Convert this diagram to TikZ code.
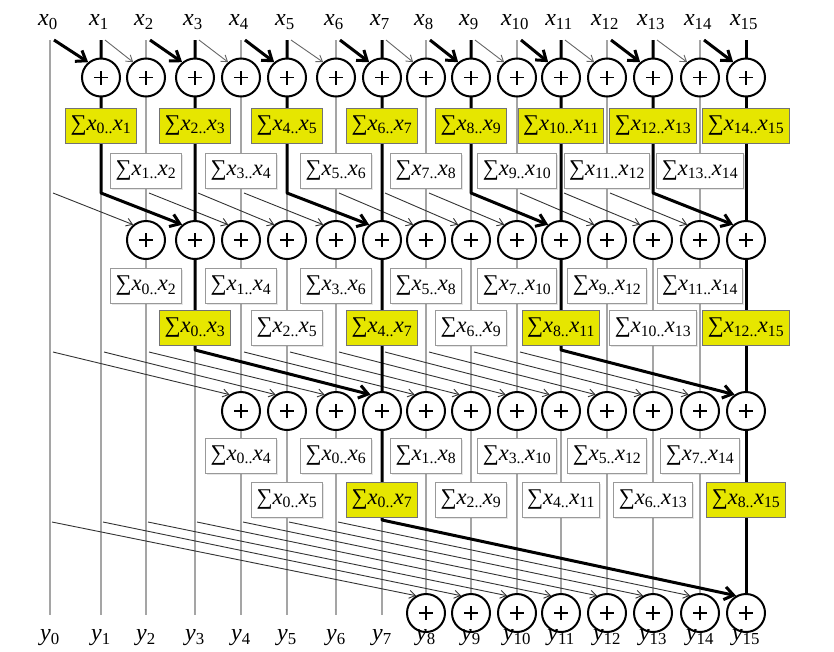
\documentclass[tikz,border=0pt]{standalone}
\usepackage{fontspec}
\setmainfont{Liberation Serif}
\usetikzlibrary{arrows.meta,shadows}
\definecolor{ylw}{RGB}{230,230,0}
\definecolor{vline}{RGB}{165,165,165}
\newcommand\sumx[2]{∑\textit{x}\textsubscript{#1..}\textit{x}\textsubscript{#2}}
\newcommand\colX[1]{\csname cx#1\endcsname}
\pgfdeclarelayer{bg}
\pgfsetlayers{bg,main}
\begin{document}
\begin{tikzpicture}[x=1pt,y=-1pt,
  adder/.style={circle,draw=black,line width=2pt,fill=white,minimum size=38pt,inner sep=0pt,
    path picture={\draw[line width=1.7pt] ([xshift=-7pt]path picture bounding box.center) -- ++(14pt,0pt)
      ([yshift=-7pt]path picture bounding box.center) -- ++(0pt,14pt);}},
  sbox/.style={line width=1pt,minimum height=35pt,inner xsep=5pt,inner ysep=2pt,font=\fontsize{22.5}{24}\selectfont},
  ybox/.style={sbox,draw=black!55,fill=ylw},
  wbox/.style={sbox,draw=black!40,fill=white,drop shadow={opacity=0.2,shadow xshift=1.5pt,shadow yshift=-1.5pt}},
  grayline/.style={draw=vline,line width=1.1pt},
  thinarr/.style={draw=black!80,line width=0.9pt,-{Straight Barb[length=6pt,width=8pt]}},
  thinarrA/.style={thinarr,draw=black!60},
  thickarr/.style={draw=black,line width=3pt,line join=round,-{Straight Barb[length=9pt,width=13pt]}},
  lbl/.style={font=\fontsize{24}{26}\selectfont,inner sep=0pt}
]
\useasboundingbox (0,0) rectangle (834,651);
\foreach \i/\x in {0/50,1/101,2/146,3/195,4/241,5/287,6/336,7/382,8/426,9/471,10/517,11/561,12/607,13/653,14/700,15/746}{
  \expandafter\xdef\csname cx\i\endcsname{\x}
}
% adders
\foreach \i in {1,...,15}{ \node[adder] (r1c\i) at (\colX{\i},77.5) {}; }
\foreach \i in {2,...,15}{ \node[adder] (r2c\i) at (\colX{\i},240) {}; }
\foreach \i in {4,...,15}{ \node[adder] (r3c\i) at (\colX{\i},411) {}; }
\foreach \i in {8,...,15}{ \node[adder] (r4c\i) at (\colX{\i},613) {}; }
% boxes stage 1
\foreach \c/\a in {1/0,3/2,5/4,7/6,9/8,11/10,13/12,15/14}{ \node[ybox] (a\c) at (\colX{\c},125.5) {\sumx{\a}{\c}}; }
\foreach \c/\a in {2/1,4/3,6/5,8/7,10/9,12/11,14/13}{ \node[wbox] (b\c) at (\colX{\c},170.5) {\sumx{\a}{\c}}; }
% boxes stage 2
\foreach \c/\a in {2/0,4/1,6/3,8/5,10/7,12/9,14/11}{ \node[wbox] (d\c) at (\colX{\c},286) {\sumx{\a}{\c}}; }
\foreach \c/\a in {5/2,9/6,13/10}{ \node[wbox] (e\c) at (\colX{\c},328) {\sumx{\a}{\c}}; }
\foreach \c/\a in {3/0,7/4,11/8,15/12}{ \node[ybox] (e\c) at (\colX{\c},328) {\sumx{\a}{\c}}; }
% boxes stage 3
\foreach \c/\a in {4/0,6/0,8/1,10/3,12/5,14/7}{ \node[wbox] (f\c) at (\colX{\c},455.5) {\sumx{\a}{\c}}; }
\foreach \c/\a in {5/0,9/2,11/4,13/6}{ \node[wbox] (g\c) at (\colX{\c},499.5) {\sumx{\a}{\c}}; }
\foreach \c/\a in {7/0,15/8}{ \node[ybox] (g\c) at (\colX{\c},499.5) {\sumx{\a}{\c}}; }
% labels
\foreach \i in {0,...,15}{
  \node[lbl] (x\i) at (\colX{\i}-2,22) {\textit{x}\textsubscript{\i}};
  \node[lbl] (y\i) at (\colX{\i},638) {\textit{y}\textsubscript{\i}};
  \coordinate (t\i) at (\colX{\i},40);
}
\begin{pgfonlayer}{bg}
  % gray column lines
  \foreach \i in {0,...,15}{ \draw[grayline] (t\i) -- (\colX{\i},615); }
  % stage 1 inputs
  \foreach \i [evaluate=\i as \p using int(\i-1)] in {1,...,15}{
    \ifodd\i\relax
      \draw[thickarr] (\colX{\p}+4,40) -- (r1c\i.130);
    \else
      \draw[thinarrA] (\colX{\p}+4,40) -- (r1c\i.130);
    \fi
  }
  % stage 2 inputs
  \foreach \i [evaluate=\i as \p using int(\i-2)] in {2,4,5,6,8,9,10,12,13,14}{
    \draw[thinarr] (\colX{\p}+3,193) -- (r2c\i.130);
  }
  % stage 3 inputs
  \foreach \i [evaluate=\i as \p using int(\i-4)] in {4,5,6,8,9,10,11,12,13,14}{
    \draw[thinarr] (\colX{\p}+3,352) -- (r3c\i.125);
  }
  % stage 4 inputs
  \foreach \i [evaluate=\i as \p using int(\i-8)] in {8,...,14}{
    \draw[thinarr] (\colX{\p}+2,522) -- (r4c\i.120);
  }
  % thick critical paths
  \foreach \c [evaluate=\c as \n using int(\c+2)] in {1,5,9,13}{
    \draw[thickarr] (t\c) -- (\colX{\c},193) -- (r2c\n.130);
  }
  \foreach \c [evaluate=\c as \n using int(\c+4)] in {3,11}{
    \draw[thickarr] (t\c) -- (\colX{\c},350) -- (r3c\n.125);
  }
  \draw[thickarr] (t7) -- (\colX{7},520) -- (r4c15.120);
  \draw[line width=3pt] (t15) -- (r4c15);
\end{pgfonlayer}
\end{tikzpicture}
\end{document}
